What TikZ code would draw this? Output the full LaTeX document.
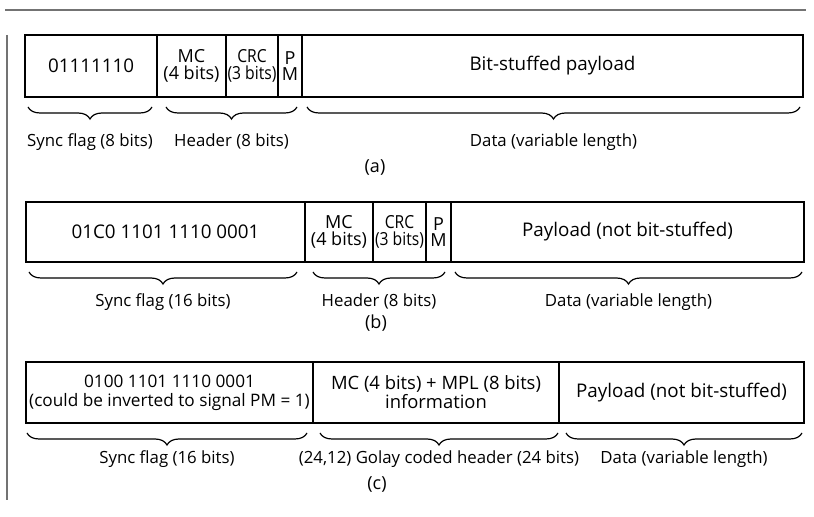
\documentclass[tikz,border=0pt]{standalone}
\usepackage{fontspec}
\usepackage{graphicx}
\setmainfont{Open Sans}
\usetikzlibrary{positioning,decorations.pathreplacing}

\newcommand{\squeeze}[1]{\scalebox{0.87}[1]{#1}}

\begin{document}
\begin{tikzpicture}[
  x=0.5pt, y=-0.5pt,
  node distance=0pt,
  field/.style={rectangle, draw, line width=0.9pt, outer sep=0pt, inner xsep=0.3pt, inner ysep=0pt, align=center, font=\fontsize{9.4}{9.4}\selectfont},
  hfield/.style={field, font=\fontsize{9}{8.4}\selectfont},
  brc/.style={decorate, decoration={brace, mirror, amplitude=6pt}, line width=0.6pt},
  lbl/.style={midway, below=#1, inner sep=0pt, font=\fontsize{8.4}{10}\selectfont},
  tag/.style={inner sep=0pt, font=\fontsize{9}{10}\selectfont},
  frame/.style={black!55, line width=0.8pt}
]
\useasboundingbox (0,0) rectangle (814,517);

% scan frame
\draw[frame] (5,10) -- (806,10);
\draw[frame] (7,35) -- (7,500);

% (a) bit-stuffed frame
\node[field, minimum width=66pt, minimum height=31pt, anchor=west] (a1) at (25,66) {01111110};
\node[hfield, minimum width=34.5pt, minimum height=31pt, right=of a1] (a2) {MC\\(4 bits)};
\node[hfield, minimum width=26pt, minimum height=31pt, right=of a2] (a3) {\squeeze{CRC}\\\squeeze{(3 bits)}};
\node[hfield, minimum width=12pt, minimum height=31pt, right=of a3] (a4) {P\\M};
\node[field, minimum width=250.5pt, minimum height=31pt, right=of a4] (a5) {Bit-stuffed payload};
\draw[brc] ([xshift=1.5pt,yshift=-5pt]a1.south west) -- ([xshift=-2.5pt,yshift=-5pt]a1.south east)
  node[lbl=13pt] (la1) {Sync flag (8 bits)};
\draw[brc] ([xshift=4.5pt,yshift=-5pt]a2.south west) -- ([xshift=-2.5pt,yshift=-5pt]a4.south east)
  node[lbl=13pt] (la2) {Header (8 bits)};
\draw[brc] ([xshift=2.5pt,yshift=-5pt]a5.south west) -- ([xshift=-1.5pt,yshift=-5pt]a5.south east)
  node[lbl=13pt] (la3) {Data (variable length)};
\node[tag] (ta) at (375,168) {(a)};

% (b) fixed sync word
\node[field, minimum width=139.5pt, minimum height=30pt, anchor=west] (b1) at (26,232) {01C0 1101 1110 0001};
\node[hfield, minimum width=34pt, minimum height=30pt, right=of b1] (b2) {MC\\(4 bits)};
\node[hfield, minimum width=26.5pt, minimum height=30pt, right=of b2] (b3) {\squeeze{CRC}\\\squeeze{(3 bits)}};
\node[hfield, minimum width=12.5pt, minimum height=30pt, right=of b3] (b4) {P\\M};
\node[field, minimum width=176.5pt, minimum height=30pt, right=of b4] (b5) {Payload (not bit-stuffed)};
\draw[brc] ([xshift=1.5pt,yshift=-5pt]b1.south west) -- ([xshift=-4pt,yshift=-5pt]b1.south east)
  node[lbl=10.5pt] (lb1) {Sync flag (16 bits)};
\draw[brc] ([xshift=4pt,yshift=-5pt]b2.south west) -- ([xshift=-3pt,yshift=-5pt]b4.south east)
  node[lbl=10.5pt] (lb2) {Header (8 bits)};
\draw[brc] ([xshift=2pt,yshift=-5pt]b5.south west) -- ([xshift=-1pt,yshift=-5pt]b5.south east)
  node[lbl=10.5pt] (lb3) {Data (variable length)};
\node[tag] (tb) at (376,323) {(b)};

% (c) Golay coded header
\node[field, minimum width=143.5pt, minimum height=30.5pt, anchor=west, font=\fontsize{8.6}{9.4}\selectfont] (c1) at (26,392.5) {0100 1101 1110 0001\\(could be inverted to signal PM = 1)};
\node[field, minimum width=123pt, minimum height=30.5pt, right=of c1, font=\fontsize{9.2}{9.4}\selectfont] (c2) {MC (4 bits) + MPL (8 bits)\\information};
\node[field, minimum width=122.5pt, minimum height=30.5pt, right=of c2] (c3) {Payload (not bit-stuffed)};
\draw[brc] ([xshift=0.5pt,yshift=-5pt]c1.south west) -- ([xshift=-3pt,yshift=-5pt]c1.south east)
  node[lbl=8.5pt] (lc1) {Sync flag (16 bits)};
\draw[brc] ([xshift=3.5pt,yshift=-5pt]c2.south west) -- ([xshift=-0.5pt,yshift=-5pt]c2.south east)
  node[lbl=8.5pt] (lc2) {(24,12) Golay coded header (24 bits)};
\draw[brc] ([xshift=3.5pt,yshift=-5pt]c3.south west) -- ([xshift=-1pt,yshift=-5pt]c3.south east)
  node[lbl=8.5pt] (lc3) {Data (variable length)};
\node[tag] (tc) at (377,485) {(c)};
\end{tikzpicture}
\end{document}
